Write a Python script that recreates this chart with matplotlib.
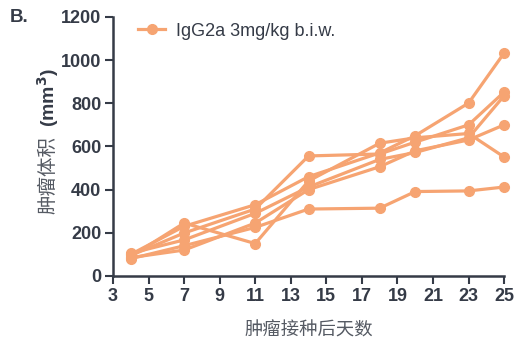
import matplotlib
matplotlib.use("Agg")
import matplotlib.pyplot as plt

# Tumour volume measurements (mm^3) per animal
days = [4, 7, 11, 14, 18, 20, 23, 25]
mouse_1 = [100, 230, 330, 460, 570, 650, 801, 1033]
mouse_2 = [95, 199, 310, 556, 565, 620, 700, 852]
mouse_3 = [90, 245, 150, 440, 615, 640, 660, 551]
mouse_4 = [105, 167, 290, 412, 540, 572, 640, 835]
mouse_5 = [85, 120, 245, 400, 506, 580, 630, 700]
mouse_6 = [80, 140, 225, 310, 314, 391, 394, 412]
series = [mouse_1, mouse_2, mouse_3, mouse_4, mouse_5, mouse_6]

legend_label = "IgG2a 3mg/kg b.i.w."
x_ticks = list(range(3, 26, 2))
y_ticks = list(range(0, 1201, 200))

color = "#F6A472"
axis_color = "#353b47"
label_gray = "#555a63"
cjk = ["Noto Sans CJK SC", "DejaVu Sans"]

plt.rcParams["font.family"] = ["Liberation Sans", "DejaVu Sans"]

fig = plt.figure(figsize=(5.16, 3.39), dpi=100)
ax = fig.add_axes([0.219, 0.186, 0.758, 0.764])

for i, vals in enumerate(series):
    ax.plot(days, vals, color=color, lw=2.3, marker="o", ms=7,
            mec=color, mfc=color, label=legend_label if i == 0 else None,
            clip_on=False, zorder=3)

ax.set_xlim(3, 25)
ax.set_ylim(0, 1200)
ax.set_xticks(x_ticks)
ax.set_yticks(y_ticks)

for side in ["top", "right"]:
    ax.spines[side].set_visible(False)
for side in ["left", "bottom"]:
    ax.spines[side].set_color(axis_color)
    ax.spines[side].set_linewidth(1.8)

ax.tick_params(axis="both", colors=axis_color, width=1.5, length=5.5,
               labelsize=13, pad=3)
for lab in ax.get_xticklabels() + ax.get_yticklabels():
    lab.set_fontweight("bold")
    lab.set_color(axis_color)

ax.set_xlabel("肿瘤接种后天数", fontfamily=cjk, fontsize=13.2,
              color=label_gray, labelpad=12, fontweight="light")

# y-axis label: light CJK text followed by bold unit
fig.text(0.093, 0.484, "肿瘤体积", rotation=90, fontfamily=cjk,
         fontsize=14, color=label_gray, ha="center", va="center",
         fontweight="light")
fig.text(0.093, 0.712, "(mm$^\\mathbf{3}$)", rotation=90, fontsize=14,
         color=axis_color, ha="center", va="center", fontweight="bold")

fig.text(0.018, 0.948, "B.", fontsize=13.5, fontweight="bold",
         color=axis_color, ha="left", va="center")

leg = ax.legend(loc="upper left", bbox_to_anchor=(0.037, 1.02), frameon=False,
                fontsize=13, handlelength=1.5, handletextpad=0.6,
                borderaxespad=0.2)
for t in leg.get_texts():
    t.set_color(axis_color)

fig.savefig("out.png", dpi=100)
